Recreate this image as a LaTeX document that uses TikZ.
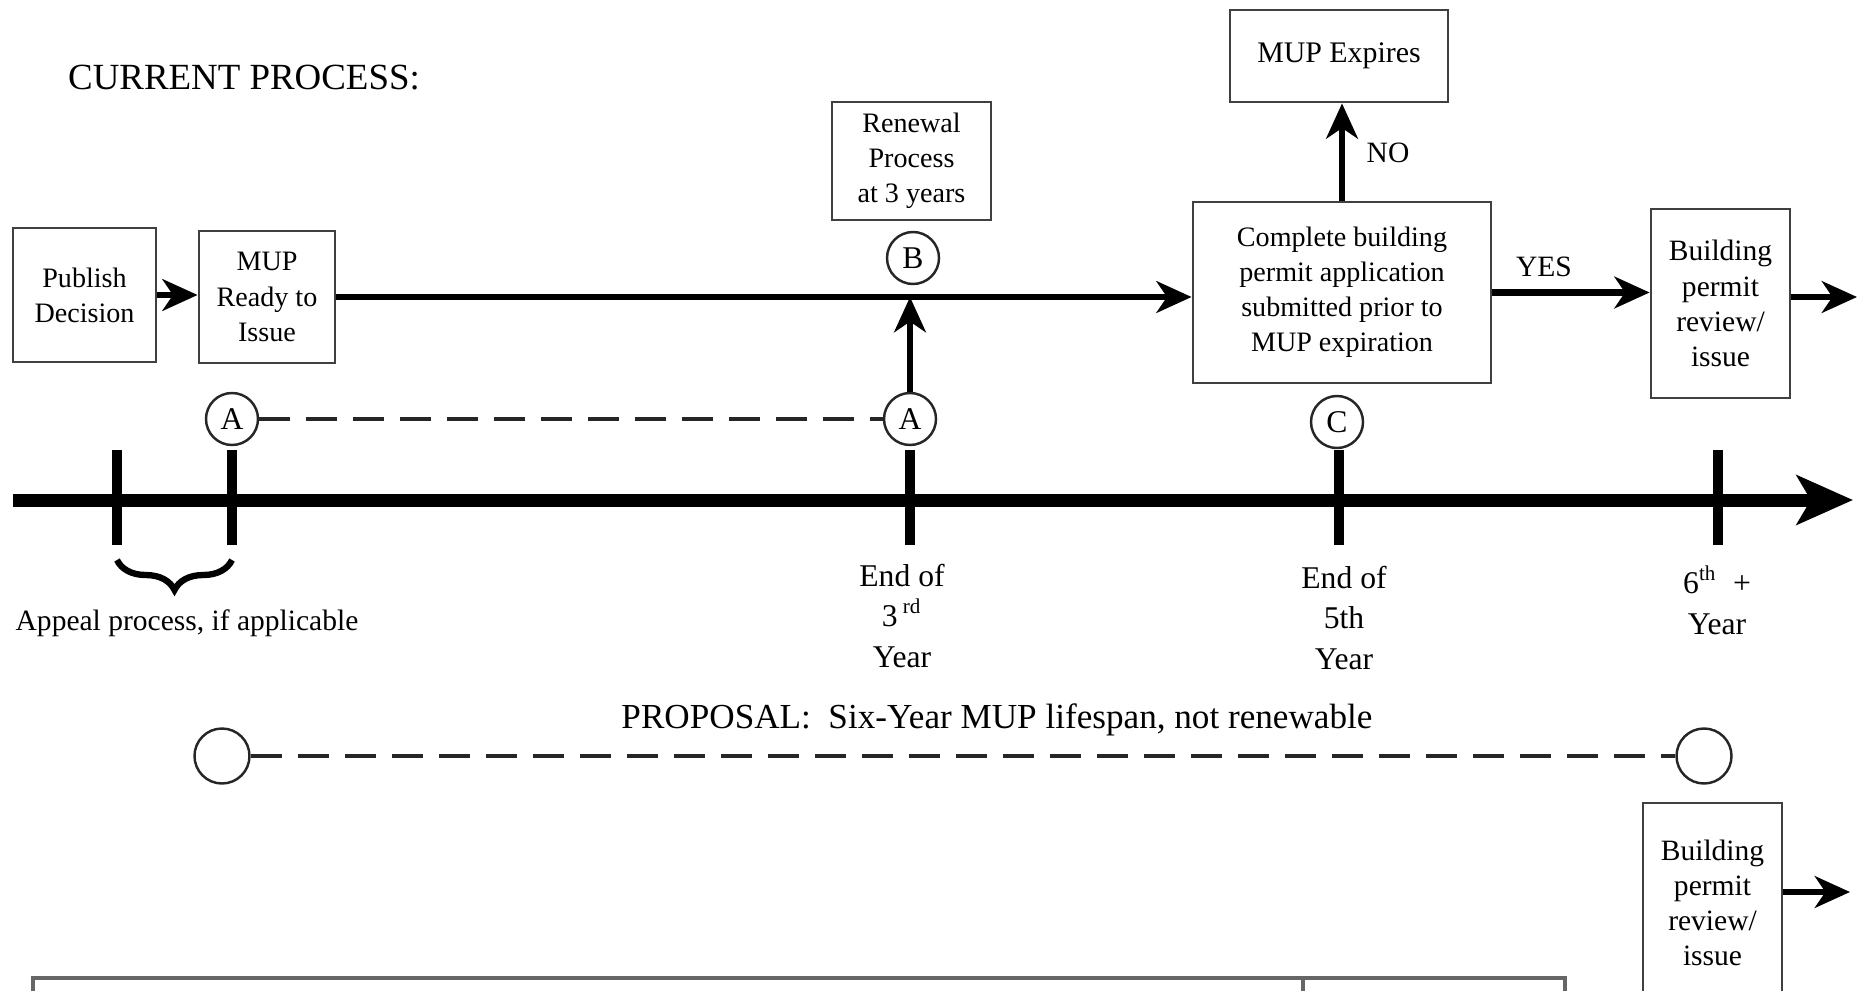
\documentclass[tikz,border=0pt]{standalone}
\usepackage{fontspec}
\setmainfont{Liberation Serif}
\usetikzlibrary{shapes,arrows,arrows.meta,positioning,calc,decorations.pathreplacing}

\begin{document}
\begin{tikzpicture}[
    box/.style={draw=black!75, line width=0.8pt, align=center, inner sep=1pt,
        font=\fontsize{8}{10}\selectfont},
    ring/.style={circle, draw=black!85, line width=0.7pt, minimum size=0.52cm,
        inner sep=0pt, font=\fontsize{9}{9}\selectfont},
    flow/.style={line width=1.8pt, -{Stealth[length=10pt,width=9pt,inset=3pt]}},
    dashline/.style={line width=1.4pt, black!85, dash pattern=on 0.31cm off 0.16cm},
    timeline/.style={line width=3.7pt, -{Stealth[length=16pt,width=14pt,inset=4pt]}},
    tick/.style={line width=2.8pt},
    heading/.style={font=\fontsize{10.5}{12}\selectfont},
    yearlabel/.style={align=center, font=\fontsize{9}{11.5}\selectfont},
    small/.style={font=\fontsize{8.4}{10}\selectfont}
]
\useasboundingbox (0,0) rectangle (18.68,-9.90);
\clip (0,0) rectangle (18.68,-9.90);

% Current process
\node[heading] (current) at (2.44,-0.78) {CURRENT PROCESS:};

\node[box, minimum width=1.43cm, minimum height=1.34cm] (publish) at (0.845,-2.95) {Publish\\Decision};
\node[box, minimum width=1.36cm, minimum height=1.32cm] (ready) at (2.67,-2.97) {MUP\\Ready to\\Issue};
\node[box, minimum width=1.59cm, minimum height=1.18cm] (renewal) at (9.115,-1.61) {Renewal\\Process\\at 3 years};
\node[box, minimum width=2.18cm, minimum height=0.92cm, font=\fontsize{8.5}{10}\selectfont] (expires) at (13.39,-0.56) {MUP Expires};
\node[box, minimum width=2.98cm, minimum height=1.81cm] (complete) at (13.42,-2.925) {Complete building\\permit application\\submitted prior to\\MUP expiration};
\node[box, minimum width=1.39cm, minimum height=1.89cm, font=\fontsize{8.4}{10}\selectfont] (review) at (17.205,-3.035) {Building\\permit\\review/\\issue};

% Markers
\node[ring] (a1) at (2.32,-4.19) {A};
\node[ring] (a2) at (9.10,-4.19) {A};
\node[ring] (b) at (9.13,-2.58) {B};
\node[ring] (c) at (13.37,-4.22) {C};

% Flow of the current process
\coordinate (join) at (9.10,-2.97);
\coordinate (out1) at (18.57,-2.97);
\draw[flow] (publish.east) -- (publish.east -| ready.west);
\draw[flow] (ready.east) -- (ready.east -| complete.west);
\draw[flow] (a2.north) -- (join);
\draw[flow] (complete.north) -- (complete.north |- expires.south);
\draw[flow] (complete.east) -- (complete.east -| review.west);
\draw[flow] (review.east |- out1) -- (out1);
\node[small] (no) at (13.88,-1.53) {NO};
\node[small] (yes) at (15.44,-2.67) {YES};
\draw[dashline] (a1.east) -- (a2.west);

% Time line
\coordinate (tstart) at (0.13,-5.00);
\coordinate (tend) at (18.53,-5.00);
\draw[timeline] (tstart) -- (tend);
\foreach \x in {1.17,2.32,9.10,13.39,17.18} {
    \draw[tick] (\x,-4.50) -- (\x,-5.45);
}
\draw[line width=1.8pt, decorate, decoration={brace, mirror, amplitude=0.3cm}] (1.17,-5.60) -- (2.32,-5.60);

\node[small] (appeal) at (1.87,-6.23) {Appeal process, if applicable};
\node[yearlabel] (third) at (9.02,-6.16) {End of\\3\,\textsuperscript{rd}\\Year};
\node[yearlabel] (fifth) at (13.44,-6.18) {End of\\5th\\Year};
\node[yearlabel] (sixth) at (17.17,-6.00) {6\textsuperscript{th}\ \ +\\Year};

% Proposal
\node[heading, font=\fontsize{10}{12}\selectfont] (proposal) at (9.97,-7.20) {PROPOSAL:\ \ Six-Year MUP lifespan, not renewable};
\node[ring, minimum size=0.55cm] (p1) at (2.22,-7.56) {};
\node[ring, minimum size=0.55cm] (p2) at (17.04,-7.56) {};
\draw[dashline] (p1.east) -- (p2.west);

\node[box, minimum width=1.39cm, minimum height=2.0cm, font=\fontsize{8.4}{10}\selectfont] (review2) at (17.125,-9.03) {Building\\permit\\review/\\issue};
\coordinate (out2) at (18.50,-8.92);
\draw[flow] (review2.east |- out2) -- (out2);

% Table below (cut off)
\draw[black!60, line width=1.2pt] (0.33,-10.3) -- (0.33,-9.78) -- (15.65,-9.78) -- (15.65,-10.3);
\draw[black!60, line width=1.2pt] (13.03,-9.78) -- (13.03,-10.3);

\end{tikzpicture}
\end{document}
